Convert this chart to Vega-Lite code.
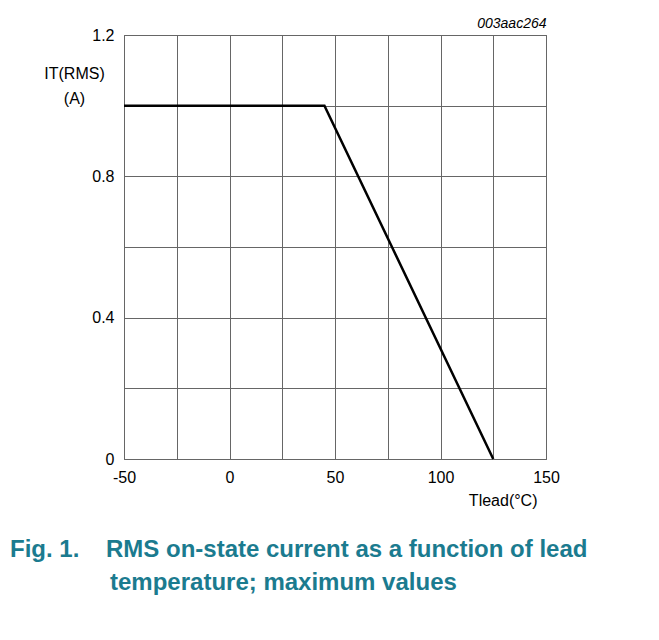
{
  "$schema": "https://vega.github.io/schema/vega-lite/v6.json",
  "width": 422,
  "height": 424,
  "autosize": "none",
  "padding": {"left": 124, "top": 35, "right": 113, "bottom": 181},
  "background": "white",
  "config": {
    "view": {"stroke": "#555555", "strokeWidth": 1},
    "font": "Liberation Sans"
  },
  "title": {
    "text": ["Fig. 1.\u00a0\u00a0\u00a0\u00a0RMS on-state current as a function of lead", "\u200b\u00a0\u00a0\u00a0\u00a0\u00a0\u00a0\u00a0\u00a0\u00a0\u00a0\u00a0\u00a0\u00a0\u00a0\u00a0temperature; maximum values"],
    "orient": "bottom",
    "anchor": "start",
    "frame": "group",
    "dx": -114,
    "offset": 30,
    "font": "Liberation Sans",
    "fontSize": 24,
    "fontWeight": "bold",
    "color": "#1b7b8f",
    "lineHeight": 33
  },
  "data": {
    "values": [
      {"t": -50, "i": 1.0},
      {"t": 45, "i": 1.0},
      {"t": 125, "i": 0.0}
    ]
  },
  "layer": [
    {
      "mark": {"type": "line", "color": "black", "strokeWidth": 2.5},
      "encoding": {
        "x": {
          "field": "t",
          "type": "quantitative",
          "scale": {"domain": [-50, 150], "nice": false, "zero": false},
          "axis": {
            "values": [-50, -25, 0, 25, 50, 75, 100, 125, 150],
            "labelExpr": "datum.value % 50 == 0 ? '' + datum.value : ''",
            "labelFlush": false,
            "labelOverlap": false,
            "ticks": false,
            "domain": false,
            "grid": true,
            "gridColor": "#666666",
            "gridOpacity": 1,
            "gridWidth": 1,
            "labelFontSize": 16,
            "labelColor": "black",
            "labelPadding": 10,
            "title": "Tlead(°C)",
            "titleFontWeight": "normal",
            "titleFontSize": 16,
            "titleColor": "black",
            "titleAlign": "right",
            "titleAnchor": null,
            "titleX": 413,
            "titleY": 46,
            "titleBaseline": "alphabetic"
          }
        },
        "y": {
          "field": "i",
          "type": "quantitative",
          "scale": {"domain": [0, 1.2], "nice": false},
          "axis": {
            "values": [0, 0.2, 0.4, 0.6, 0.8, 1.0, 1.2],
            "labelExpr": "round(datum.value * 10) % 4 == 0 ? (datum.value == 0 ? '0' : format(datum.value, '.1f')) : ''",
            "labelOverlap": false,
            "labelFlush": false,
            "ticks": false,
            "domain": false,
            "grid": true,
            "gridColor": "#666666",
            "gridOpacity": 1,
            "gridWidth": 1,
            "labelFontSize": 16,
            "labelColor": "black",
            "labelPadding": 10,
            "title": ["IT(RMS)", "(A)"],
            "titleAngle": 0,
            "titleFontWeight": "normal",
            "titleFontSize": 16,
            "titleColor": "black",
            "titleAlign": "center",
            "titleAnchor": null,
            "titleX": -50,
            "titleY": 43,
            "titleBaseline": "alphabetic",
            "titleLineHeight": 25
          }
        }
      }
    },
    {
      "mark": {"type": "line", "strokeOpacity": 0},
      "encoding": {
        "x": {
          "field": "t",
          "type": "quantitative",
          "scale": {"domain": [-50, 150], "nice": false, "zero": false},
          "axis": {
            "orient": "top",
            "labels": false,
            "ticks": false,
            "domain": false,
            "grid": false,
            "title": "003aac264",
            "titleFontStyle": "italic",
            "titleFontWeight": "normal",
            "titleFontSize": 14,
            "titleColor": "black",
            "titleAlign": "right",
            "titleAnchor": null,
            "titleX": 422,
            "titleY": -8,
            "titleBaseline": "alphabetic"
          }
        },
        "y": {"field": "i", "type": "quantitative"}
      }
    }
  ],
  "resolve": {"scale": {"x": "independent"}}
}
